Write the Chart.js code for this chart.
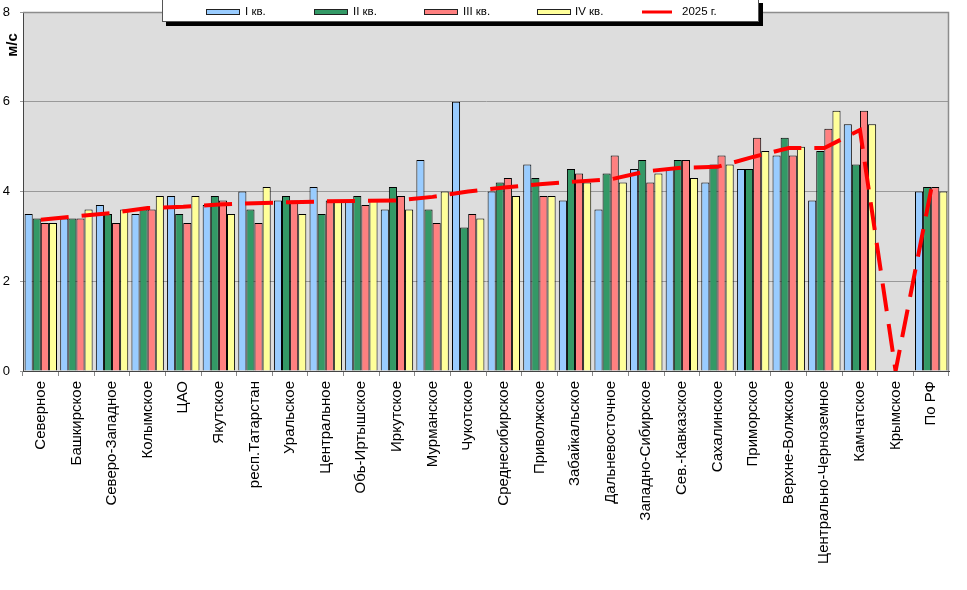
<!DOCTYPE html>
<html>
<head>
<meta charset="utf-8">
<script src="https://cdn.jsdelivr.net/npm/chart.js@4.4.1/dist/chart.umd.min.js"></script>
<style>
  html, body { margin: 0; padding: 0; background: #ffffff; }
  #wrap { width: 967px; height: 590px; }
</style>
</head>
<body>
<div id="wrap"><canvas id="c" width="967" height="590"></canvas></div>
<script>
const categories = ['Северное','Башкирское','Северо-Западное','Колымское','ЦАО','Якутское','респ.Татарстан','Уральское','Центральное','Обь-Иртышское','Иркутское','Мурманское','Чукотское','Среднесибирское','Приволжское','Забайкальское','Дальневосточное','Западно-Сибирское','Сев.-Кавказское','Сахалинское','Приморское','Верхне-Волжское','Центрально-Черноземное','Камчатское','Крымское','По РФ'];
const q1 = [3.5,3.4,3.7,3.5,3.9,3.7,4.0,3.8,4.1,3.8,3.6,4.7,6.0,4.0,4.6,3.8,3.6,4.5,4.5,4.2,4.5,4.8,3.8,5.5,null,4.0];
const q2 = [3.4,3.4,3.5,3.6,3.5,3.9,3.6,3.9,3.5,3.9,4.1,3.6,3.2,4.2,4.3,4.5,4.4,4.7,4.7,4.6,4.5,5.2,4.9,4.6,null,4.1];
const q3 = [3.3,3.4,3.3,3.6,3.3,3.8,3.3,3.8,3.8,3.7,3.9,3.3,3.5,4.3,3.9,4.4,4.8,4.2,4.7,4.8,5.2,4.8,5.4,5.8,null,4.1];
const q4 = [3.3,3.6,3.6,3.9,3.9,3.5,4.1,3.5,3.8,3.8,3.6,4.0,3.4,3.9,3.9,4.2,4.2,4.4,4.3,4.6,4.9,5.0,5.8,5.5,null,4.0];
const y2025 = [3.37,3.45,3.52,3.63,3.66,3.71,3.74,3.76,3.78,3.79,3.80,3.88,4.0,4.09,4.16,4.22,4.27,4.45,4.53,4.55,4.77,4.97,4.97,5.37,0,4.05];
const seriesNames = ['I кв.','II кв.','III кв.','IV кв.','2025 г.'];
const yTicks = [0,2,4,6,8];
const yTitle = 'м/с';

const colors = ['#99CCFF','#339966','#FF8080','#FFFF99'];
const lineColor = '#FF0000';
const FONT = '"Liberation Sans", Arial, sans-serif';

const bgPlugin = {
  id: 'bg',
  beforeDraw(chart) {
    const a = chart.chartArea, ctx = chart.ctx;
    ctx.save();
    ctx.fillStyle = '#DDDDDD';
    ctx.fillRect(a.left, a.top, a.right - a.left, a.bottom - a.top);
    ctx.restore();
  },
  afterDraw(chart) {
    const a = chart.chartArea, ctx = chart.ctx;
    ctx.save();
    ctx.strokeStyle = '#8C8C8C';
    ctx.lineWidth = 1.5;
    ctx.beginPath();
    ctx.moveTo(a.left, a.top + 0.5);
    ctx.lineTo(a.right - 0.5, a.top + 0.5);
    ctx.lineTo(a.right - 0.5, a.bottom);
    ctx.stroke();
    ctx.fillStyle = '#000';
    ctx.font = 'bold 15px ' + FONT;
    ctx.translate(13, 45);
    ctx.rotate(-Math.PI / 2);
    ctx.textAlign = 'center';
    ctx.textBaseline = 'middle';
    ctx.fillText(yTitle, 0, 0);
    ctx.restore();

    ctx.save();
    const bx = 162, by = -1, bw = 597, bh = 23;
    ctx.fillStyle = '#000';
    ctx.fillRect(bx + 4, by + 4, bw, bh);
    ctx.fillStyle = '#fff';
    ctx.fillRect(bx, by, bw, bh);
    ctx.strokeStyle = '#555';
    ctx.lineWidth = 1;
    ctx.strokeRect(bx + 0.5, by + 0.5, bw - 1, bh - 1);
    const sw = [206, 314, 424, 537];
    const tx = [245, 353, 463, 575];
    ctx.font = '11.5px ' + FONT;
    ctx.textBaseline = 'middle';
    ctx.textAlign = 'left';
    for (let i = 0; i < 4; i++) {
      ctx.fillStyle = colors[i];
      ctx.fillRect(sw[i], 9, 34, 6);
      ctx.strokeStyle = '#222';
      ctx.strokeRect(sw[i] + 0.5, 9.5, 33, 5);
      ctx.fillStyle = '#000';
      ctx.fillText(seriesNames[i], tx[i], 12);
    }
    ctx.strokeStyle = lineColor;
    ctx.lineWidth = 3;
    ctx.beginPath();
    ctx.moveTo(642, 12);
    ctx.lineTo(672, 12);
    ctx.stroke();
    ctx.fillStyle = '#000';
    ctx.fillText(seriesNames[4], 682, 12);
    ctx.restore();
  }
};

const barSets = [q1, q2, q3, q4].map((d, i) => ({
  type: 'bar',
  label: seriesNames[i],
  data: d,
  backgroundColor: colors[i],
  borderColor: '#000',
  borderWidth: 1,
  categoryPercentage: 0.91,
  barPercentage: 1.0,
  order: 1
}));

new Chart(document.getElementById('c'), {
  type: 'bar',
  data: {
    labels: categories,
    datasets: [...barSets, {
      type: 'line',
      label: seriesNames[4],
      data: y2025,
      borderColor: lineColor,
      backgroundColor: lineColor,
      borderWidth: 4,
      borderDash: [28, 13],
      borderJoinStyle: 'miter',
      pointRadius: 0,
      tension: 0,
      fill: false,
      order: 0
    }]
  },
  options: {
    responsive: false,
    animation: false,
    devicePixelRatio: 1,
    layout: { padding: { left: 0, top: 12, right: 18, bottom: 0 } },
    plugins: { legend: { display: false }, tooltip: { enabled: false } },
    scales: {
      x: {
        offset: true,
        grid: { offset: true, drawOnChartArea: false, drawTicks: true, tickLength: 5, color: '#888' },
        border: { color: '#444', width: 1 },
        ticks: {
          autoSkip: false, minRotation: 90, maxRotation: 90, padding: 5,
          color: '#000', font: { family: FONT, size: 15 }
        },
        afterFit(s) { s.height = 219; s.paddingLeft = 0; s.paddingRight = 0; }
      },
      y: {
        min: 0, max: 8,
        afterBuildTicks(s) { s.ticks = yTicks.map(v => ({ value: v })); },
        grid: { color: '#999', tickLength: 3, lineWidth: 1 },
        border: { color: '#444', width: 1 },
        ticks: { color: '#000', padding: 10, font: { family: FONT, size: 13 } },
        afterFit(s) { s.width = 23; s.paddingTop = 0; s.paddingBottom = 0; }
      }
    }
  },
  plugins: [bgPlugin]
});
</script>
</body>
</html>
